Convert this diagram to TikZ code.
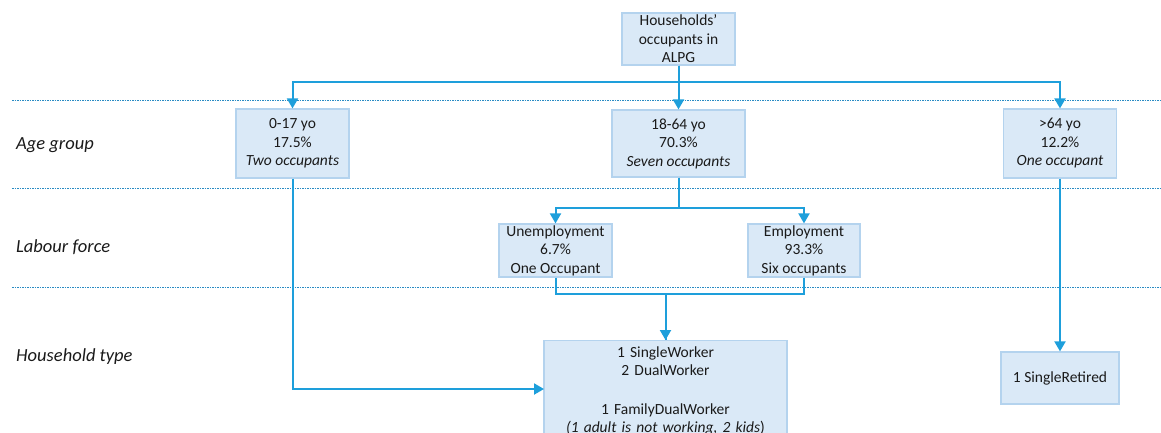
\documentclass[tikz,border=0pt]{standalone}
\usepackage{fontspec}
\setmainfont{Carlito}
\usetikzlibrary{arrows.meta,calc}
\definecolor{boxfill}{HTML}{DAE9F7}
\definecolor{boxdraw}{HTML}{B4D3EE}
\definecolor{conn}{HTML}{1E9FDB}
\definecolor{dotc}{HTML}{2A8CC4}
\definecolor{txt}{HTML}{1A1A1A}
\begin{document}
\begin{tikzpicture}[x=1pt,y=-1pt,
  font=\fontsize{15.5}{18.5}\selectfont, text=txt,
  box/.style={draw=boxdraw, fill=boxfill, line width=1.2pt, align=center, inner sep=0pt},
  arr/.style={draw=conn, line width=2pt, -{Triangle[width=11pt,length=10pt]}},
  ln/.style={draw=conn, line width=2pt},
  sep/.style={draw=dotc, line width=1pt, dash pattern=on 1.5pt off 1pt},
  lab/.style={anchor=west, inner sep=0pt, font=\fontsize{18.5}{22}\selectfont\itshape}]
\useasboundingbox (0,0) rectangle (1161,432);
% separators
\draw[sep] (12,100) -- (1161,100);
\draw[sep] (12,188.5) -- (1161,188.5);
\draw[sep] (12,287) -- (1161,287);
% row labels
\node[lab] (lage) at (16,145) {Age group};
\node[lab] (llab) at (16,247) {Labour force};
\node[lab] (lhh) at (16,357) {Household type};
% nodes
\node[box, minimum width=113pt, minimum height=52pt] (top) at (678.5,39) {Households'\\occupants in\\ALPG};
\node[box, minimum width=113pt, minimum height=69pt] (a017) at (292.5,143.5) {0-17 yo\\17.5\%\\\textit{Two occupants}};
\node[box, minimum width=133pt, minimum height=67pt] (a1864) at (678.5,143.5) {18-64 yo\\70.3\%\\\textit{Seven occupants}};
\node[box, minimum width=113pt, minimum height=69pt] (a64) at (1060,143.5) {>64 yo\\12.2\%\\\textit{One occupant}};
\node[box, minimum width=113pt, minimum height=53pt] (unemp) at (555.5,250.5) {Unemployment\\6.7\%\\One Occupant};
\node[box, minimum width=112pt, minimum height=53pt] (emp) at (804,250.5) {Employment\\93.3\%\\Six occupants};
\node[box, minimum width=118pt, minimum height=52pt] (ret) at (1060,378) {1 SingleRetired};
\node[box, text width=243pt, anchor=north, inner ysep=6pt] (big) at (665.5,340)
  {1 SingleWorker\\2 DualWorker\\[20pt]1 FamilyDualWorker\\\textit{(1 adult is not working, 2 kids})\rule[-16pt]{0pt}{1pt}};
\coordinate (bigin) at (544,389);
% connectors
\draw[arr] (top.south) -- ++(0,16) -| (a017.north);
\draw[arr] (top.south) -- ++(0,16) -| (a64.north);
\draw[arr] (top.south) -- (a1864.north);
\draw[arr] (a1864.south) -- ++(0,30) -| (unemp.north);
\draw[arr] (a1864.south) -- ++(0,30) -| (emp.north);
\draw[arr] (unemp.south) -- ++(0,16) -| (big.north);
\draw[ln] (emp.south) -- ++(0,16) -| (big.north);
\draw[arr] (a017.south) |- (bigin);
\draw[arr] (a64.south) -- (ret.north);
\end{tikzpicture}
\end{document}
